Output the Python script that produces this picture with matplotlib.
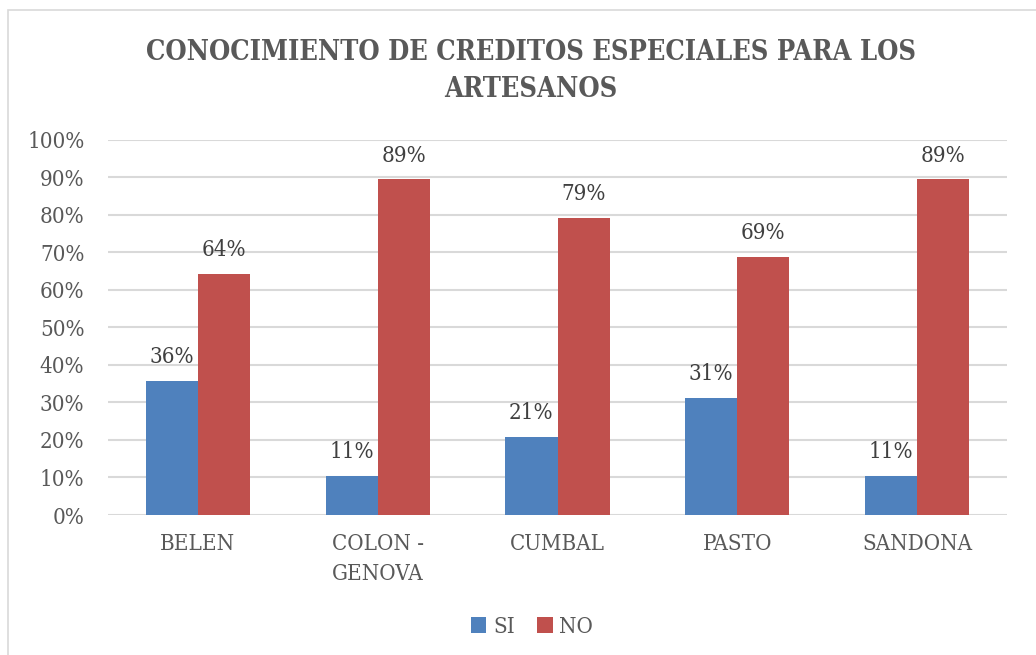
import numpy as np
import matplotlib
matplotlib.use("Agg")
import matplotlib.pyplot as plt
from matplotlib.patches import Rectangle

categorias = ["BELEN", "COLON -\nGENOVA", "CUMBAL", "PASTO", "SANDONA"]
si = [0.358, 0.105, 0.208, 0.3125, 0.105]
no = [0.642, 0.895, 0.792, 0.6875, 0.895]
etiquetas_si = ["36%", "11%", "21%", "31%", "11%"]
etiquetas_no = ["64%", "89%", "79%", "69%", "89%"]

gris = "#595959"
azul = "#4f81bd"
rojo = "#c0504d"

plt.rcParams["font.family"] = ["DejaVu Serif"]
plt.rcParams["font.stretch"] = "condensed"

W, H = 1036, 655
fig = plt.figure(figsize=(W / 100, H / 100), dpi=100)

# borde del area del grafico
fig.patches.append(Rectangle((8 / W, -0.01), 1.05, 1 - 10 / H + 0.01,
                             transform=fig.transFigure, fill=False,
                             edgecolor="#d9d9d9", linewidth=1.2))

ax = fig.add_axes([108 / W, 1 - 515 / H, (1007 - 108) / W, (515 - 139.6) / H])

x = np.arange(len(categorias))
ancho = 0.29
b1 = ax.bar(x - ancho / 2, si, ancho, color=azul, label="SI", zorder=3)
b2 = ax.bar(x + ancho / 2, no, ancho, color=rojo, label="NO", zorder=3)

for barras, etiquetas in ((b1, etiquetas_si), (b2, etiquetas_no)):
    for b, t in zip(barras, etiquetas):
        ax.annotate(t, (b.get_x() + b.get_width() / 2, b.get_height()),
                    xytext=(0, 9), textcoords="offset points",
                    ha="center", va="bottom", fontsize=16, color="#404040")

ax.set_xlim(-0.5, len(categorias) - 0.5)
ax.set_ylim(0, 1.0)
ax.set_yticks(np.arange(0, 1.01, 0.1))
ax.set_yticklabels([f"{int(round(v * 100))}%" for v in np.arange(0, 1.01, 0.1)])
ax.set_xticks(x)
ax.set_xticklabels(categorias, linespacing=1.45)
ax.tick_params(axis="both", length=0, labelsize=16, labelcolor=gris)
ax.tick_params(axis="x", pad=13)
ax.tick_params(axis="y", pad=17)
ax.grid(axis="y", color="#d9d9d9", linewidth=1.5, zorder=0)
for s in ax.spines.values():
    s.set_visible(False)

fig.text(531 / W, 1 - 71 / H,
         "CONOCIMIENTO DE CREDITOS ESPECIALES PARA LOS\nARTESANOS",
         ha="center", va="center", fontsize=19.5, fontweight="bold",
         color=gris, linespacing=1.45)

fig.legend(loc="center", bbox_to_anchor=(532 / W, 1 - 627 / H), ncol=2,
           frameon=False, fontsize=16, labelcolor=gris,
           handlelength=0.7, handleheight=0.7, handletextpad=0.3,
           columnspacing=1.0)

fig.savefig("out.png", dpi=100)
